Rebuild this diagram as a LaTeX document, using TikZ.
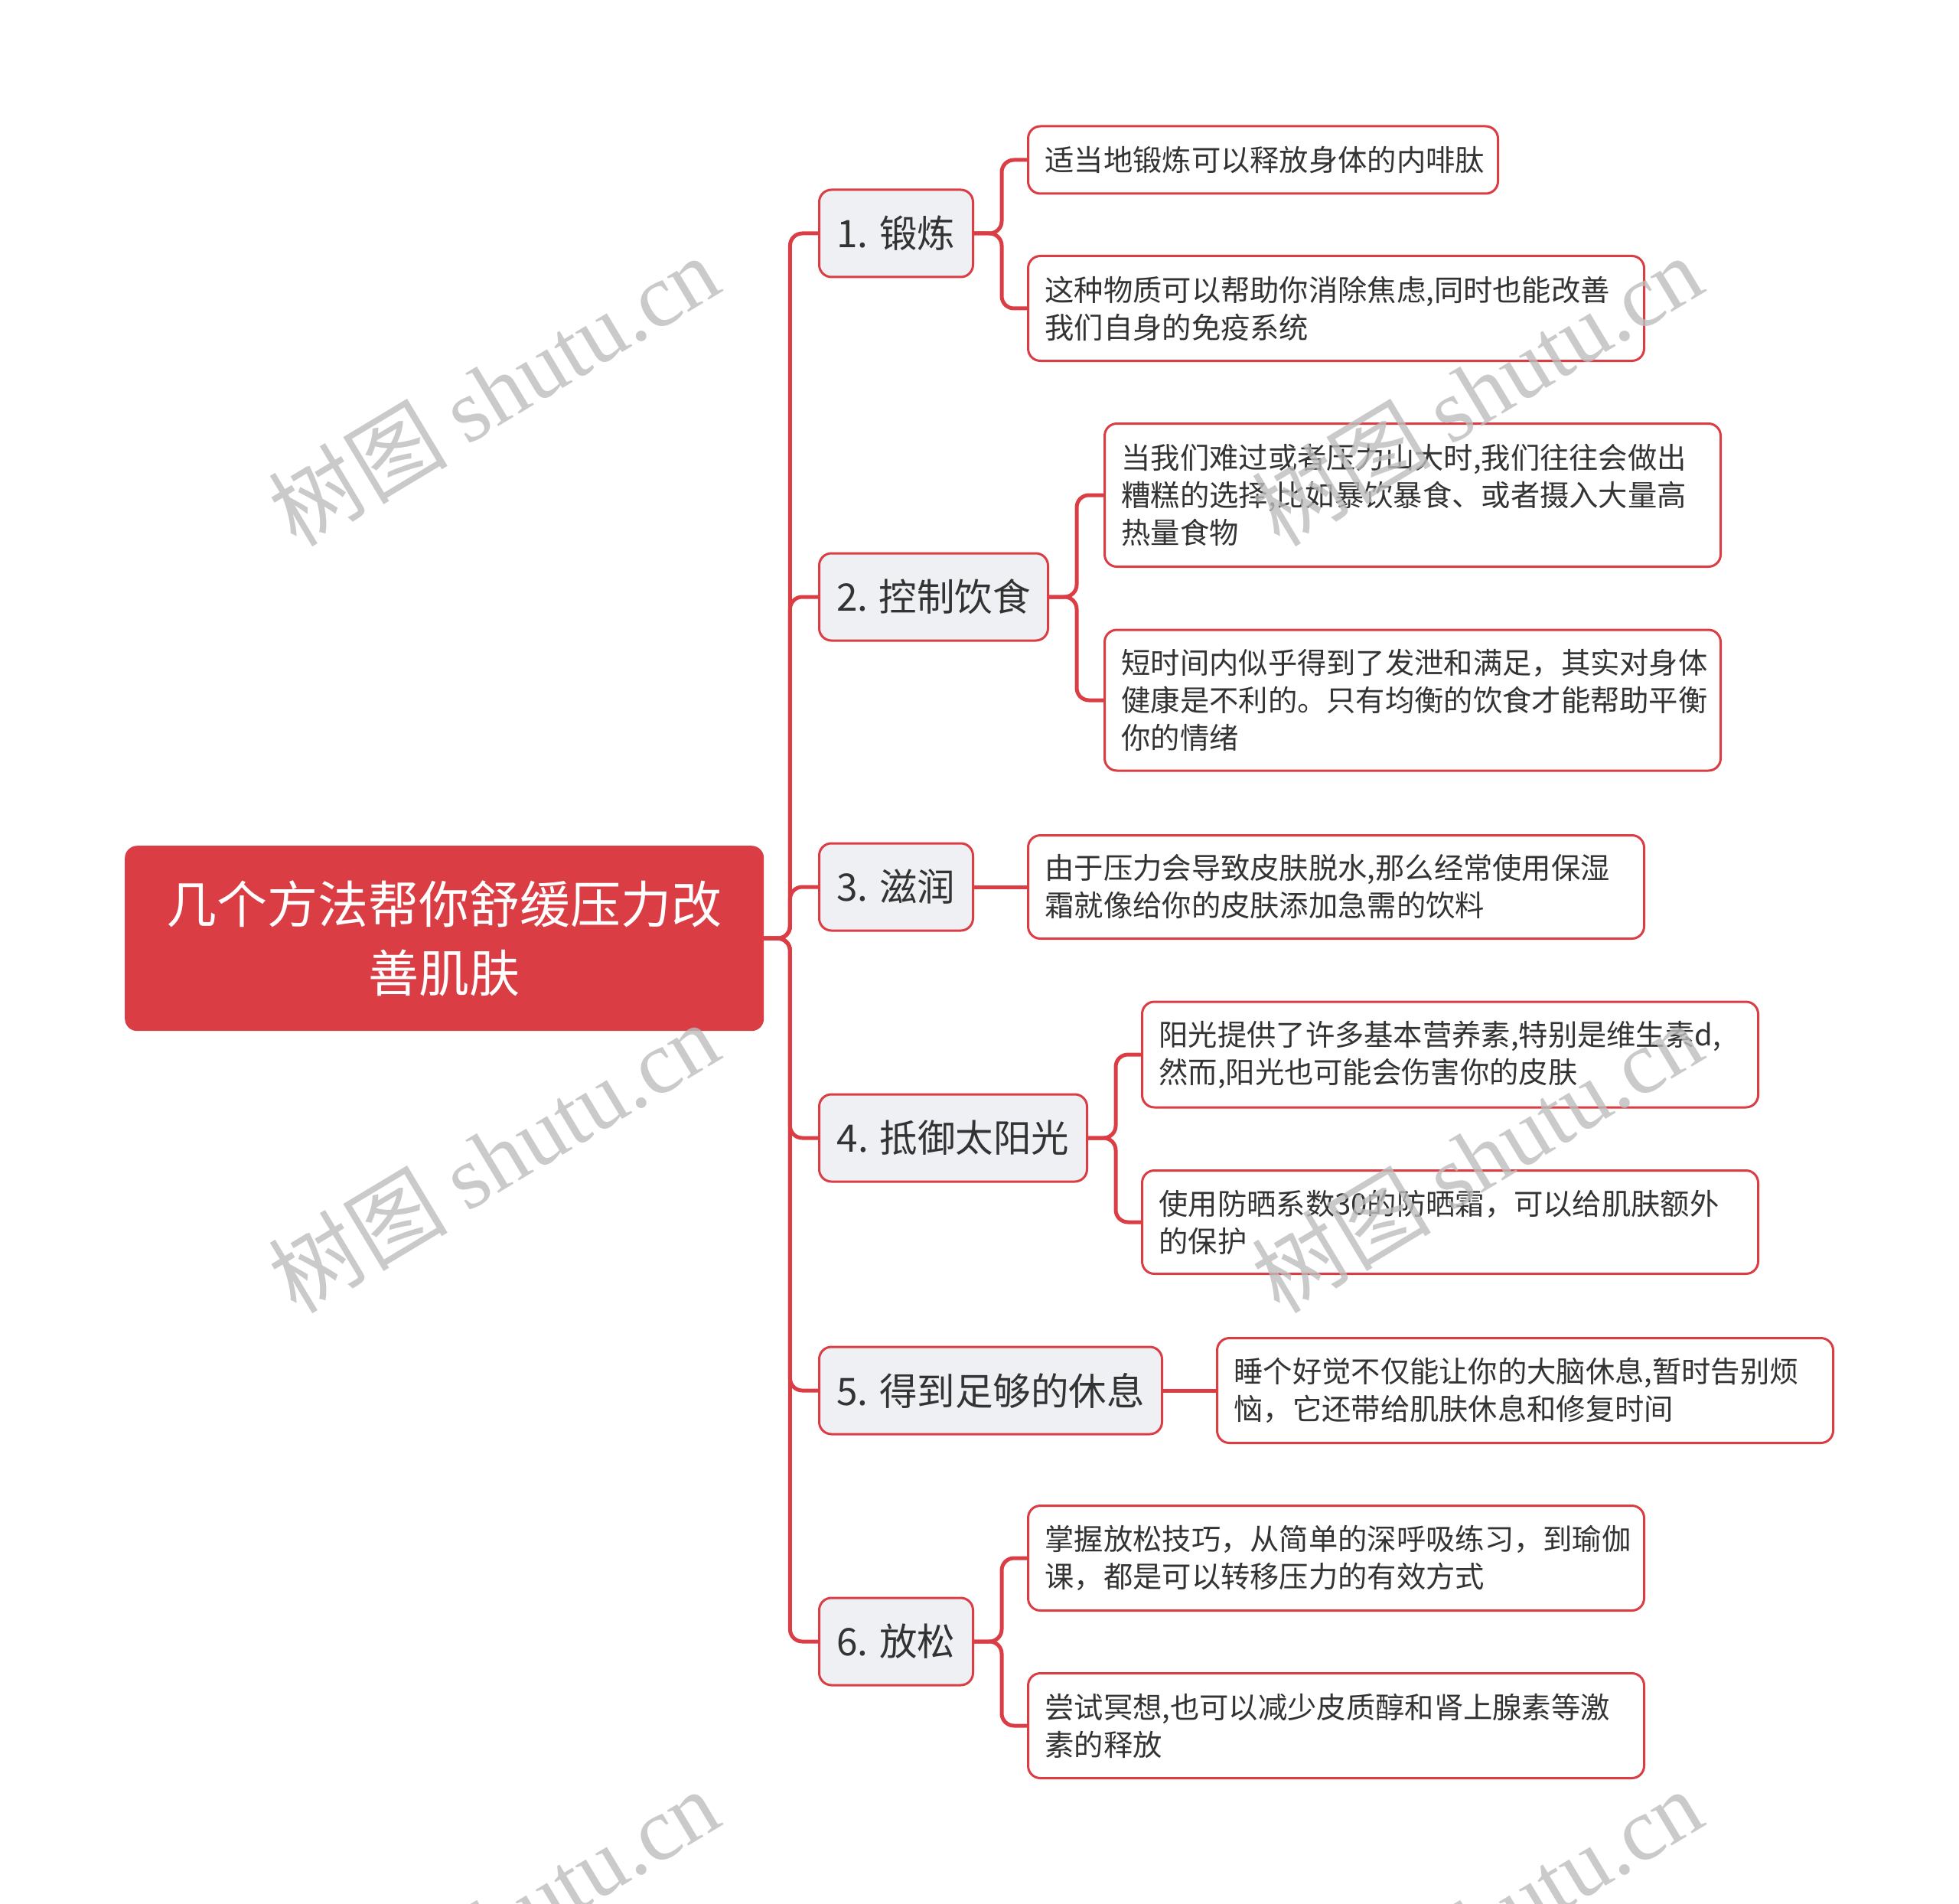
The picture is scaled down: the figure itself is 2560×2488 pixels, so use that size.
\documentclass[tikz,border=0pt]{standalone}
\usepackage{fontspec}
\setmainfont{Noto Sans CJK SC}
\newfontfamily\wmlatin{Liberation Serif}
\newfontfamily\wmcjk{Noto Sans CJK SC}
\definecolor{redmain}{HTML}{DA3D44}
\definecolor{lfill}{HTML}{EEF0F4}
\definecolor{txt}{HTML}{333333}
\definecolor{wm}{HTML}{BDBDBD}
\tikzset{
  conn/.style={draw=redmain, line width=5pt, rounded corners=16pt},
  lvl/.style={draw=redmain, line width=3pt, fill=lfill, rounded corners=16pt, minimum height=114pt, inner xsep=10pt, anchor=west, font=\fontsize{49.5}{58}\selectfont, text=txt},
  leaf/.style={draw=redmain, line width=3pt, fill=white, rounded corners=16pt, anchor=west, align=left, inner xsep=22pt, font=\fontsize{38.3}{49}\selectfont, text=txt},
  wmark/.style={text=wm, opacity=0.8, rotate=31, font=\fontsize{117}{120}\selectfont},
}
\begin{document}
\begin{tikzpicture}[x=1pt,y=-1pt]
\useasboundingbox (0,0) rectangle (2560,2488);
\clip (0,0) rectangle (2560,2488);
% root
\node[fill=redmain, rounded corners=16pt, minimum width=835pt, minimum height=242pt, anchor=north west, align=center, text=white, font=\fontsize{66}{90}\selectfont] (root) at (163,1105) {几个方法帮你舒缓压力改\\善肌肤};
% level 1
\node[lvl, minimum width=201pt] (n1) at (1069,305) {1. 锻炼};
\node[lvl, minimum width=299pt] (n2) at (1069,780) {2. 控制饮食};
\node[lvl, minimum width=201pt] (n3) at (1069,1159) {3. 滋润};
\node[lvl, minimum width=350pt] (n4) at (1069,1487) {4. 抵御太阳光};
\node[lvl, minimum width=448pt] (n5) at (1069,1817) {5. 得到足够的休息};
\node[lvl, minimum width=201pt] (n6) at (1069,2145) {6. 放松};
% leaves
\node[leaf, text width=570pt, minimum height=88pt] (a1) at (1342,209) {适当地锻炼可以释放身体的内啡肽};
\node[leaf, text width=761pt, minimum height=137pt] (b1) at (1342,403) {这种物质可以帮助你消除焦虑,同时也能改善\\我们自身的免疫系统};
\node[leaf, text width=761pt, minimum height=187pt] (a2) at (1442,647) {当我们难过或者压力山大时,我们往往会做出\\糟糕的选择,比如暴饮暴食、或者摄入大量高\\热量食物};
\node[leaf, text width=761pt, minimum height=184pt] (b2) at (1442,915) {短时间内似乎得到了发泄和满足，其实对身体\\健康是不利的。只有均衡的饮食才能帮助平衡\\你的情绪};
\node[leaf, text width=761pt, minimum height=135pt] (a3) at (1342,1159) {由于压力会导致皮肤脱水,那么经常使用保湿\\霜就像给你的皮肤添加急需的饮料};
\node[leaf, text width=761pt, minimum height=138pt] (a4) at (1491,1378) {阳光提供了许多基本营养素,特别是维生素d,\\然而,阳光也可能会伤害你的皮肤};
\node[leaf, text width=761pt, minimum height=135pt] (b4) at (1491,1597) {使用防晒系数30的防晒霜，可以给肌肤额外\\的保护};
\node[leaf, text width=761pt, minimum height=137pt] (a5) at (1589,1817) {睡个好觉不仅能让你的大脑休息,暂时告别烦\\恼，它还带给肌肤休息和修复时间};
\node[leaf, text width=761pt, minimum height=137pt] (a6) at (1342,2036) {掌握放松技巧，从简单的深呼吸练习，到瑜伽\\课，都是可以转移压力的有效方式};
\node[leaf, text width=761pt, minimum height=137pt] (b6) at (1342,2255) {尝试冥想,也可以减少皮质醇和肾上腺素等激\\素的释放};
% connectors root -> level 1
\foreach \n in {n1,n2,n3,n4,n5,n6}{
  \draw[conn] (root.east) -- ++(34,0) |- (\n.west);
}
% connectors level1 -> leaves
\draw[conn] (n1.east) -- ++(36,0) |- (a1.west);
\draw[conn] (n1.east) -- ++(36,0) |- (b1.west);
\draw[conn] (n2.east) -- ++(36,0) |- (a2.west);
\draw[conn] (n2.east) -- ++(36,0) |- (b2.west);
\draw[conn] (n3.east) -- (a3.west);
\draw[conn] (n4.east) -- ++(36,0) |- (a4.west);
\draw[conn] (n4.east) -- ++(36,0) |- (b4.west);
\draw[conn] (n5.east) -- (a5.west);
\draw[conn] (n6.east) -- ++(36,0) |- (a6.west);
\draw[conn] (n6.east) -- ++(36,0) |- (b6.west);
% watermarks
\foreach \wx/\wy [count=\i] in {645/510,1930/510,645/1512,1930/1512,645/2514,1930/2514}{
  \node[wmark] (wm\i) at (\wx,\wy) {\wmcjk 树图 \wmlatin shutu.cn};
}
\end{tikzpicture}
\end{document}
